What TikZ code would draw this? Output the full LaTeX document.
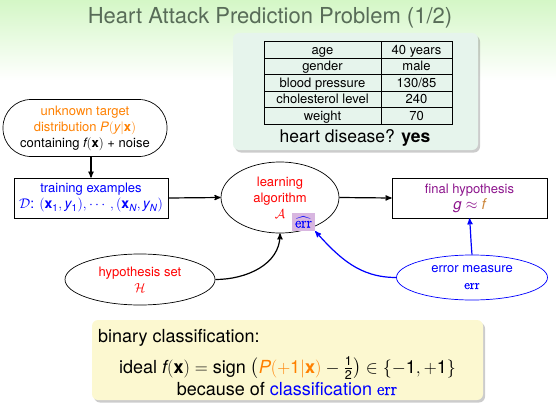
\RequirePackage{fix-cm}
\documentclass[tikz,border=0pt]{standalone}
\usepackage{amsmath}
\usepackage{fontspec}
\setmainfont{TeX Gyre Heros}
\newfontfamily\errfont[FakeBold=1.2]{Latin Modern Roman}
\usetikzlibrary{arrows}
\usetikzlibrary{shapes.geometric,shadows}

\definecolor{bggreen}{RGB}{212,247,198}
\definecolor{titlegreen}{RGB}{88,108,88}
\definecolor{mintblock}{RGB}{230,244,236}
\definecolor{yellowblock}{RGB}{252,248,208}
\definecolor{tgtorange}{RGB}{255,128,0}
\definecolor{fbrown}{RGB}{205,135,60}
\definecolor{hpurple}{RGB}{140,20,140}
\definecolor{errpurple}{RGB}{216,182,224}

\newcommand{\sv}[1]{\mathit{#1}}
\newcommand{\vx}{\mathbf{x}}
\newcommand{\errtxt}{\text{\errfont err}}

\begin{document}
\begin{tikzpicture}[x=1pt,y=-1pt, >=stealth', font=\fontsize{13}{16}\selectfont,
  arr/.style={->,line width=1.2pt},
  boxnode/.style={draw,line width=.7pt,align=center,inner sep=0pt},
  ovalnode/.style={ellipse,draw,line width=.7pt,align=center,inner sep=0pt}]
\useasboundingbox (0,0) rectangle (556,412);
\shade[top color=bggreen, bottom color=white] (0,0) rectangle (556,80);

\node[anchor=base, text=titlegreen, font=\fontsize{22}{26}\selectfont] (title) at (270,24) {Heart Attack Prediction Problem (1/2)};

% patient record
\fill[mintblock, rounded corners=6, drop shadow={shadow xshift=2pt,shadow yshift=-2.5pt,opacity=.4}] (233,33) rectangle (478,150);
\draw[line width=.6pt] (264,41.7) rectangle (452,124.2);
\foreach \r in {1,...,4} {
 \draw[line width=.6pt] (264,41.7+16.5*\r) -- (452,41.7+16.5*\r);
}
\draw[line width=.6pt] (381,41.7) -- (381,124.2);
\foreach \a/\b [count=\i] in {age/40 years, gender/male, blood pressure/{130/85}, cholesterol level/240, weight/70} {
 \node[anchor=base, inner sep=0] (k\i) at (322.5,41.7+16.5*\i-4.2) {\a};
 \node[anchor=base, inner sep=0] (v\i) at (416.5,41.7+16.5*\i-4.2) {\b};
}
\node[anchor=base, font=\fontsize{17.5}{20}\selectfont] (ask) at (355,142) {heart disease? \textbf{yes}};

% learning flow
\node[boxnode, rounded corners=28, minimum width=164, minimum height=57] (target) at (85,128)
 {\textcolor{tgtorange}{unknown target}\\\textcolor{tgtorange}{distribution $\sv{P}(\sv{y}|\vx)$}\\containing $\sv{f}(\vx)$ + noise};
\node[boxnode, minimum width=154, minimum height=40, text=blue] (train) at (91,198)
 {training examples\\\fontsize{14}{16}\selectfont$\mathcal{D}$: $(\vx_{\mathrm{1}},\sv{y}_{\mathrm{1}}),\cdots,(\vx_{\sv{N}},\sv{y}_{\sv{N}})$};
\node[ovalnode, minimum width=118, minimum height=71, text=red] (algo) at (280,197.5)
 {learning\\algorithm\\$\mathcal{A}$};
\node[fill=errpurple, text=blue, inner sep=1pt, minimum width=23, minimum height=18, font=\fontsize{15}{16}\selectfont] (errhat) at (303.5,222) {$\widehat{\errtxt}$};
\node[boxnode, minimum width=155, minimum height=40, text=hpurple] (final) at (469.5,198)
 {final hypothesis\\\fontsize{15}{16}\selectfont$\sv{g}\approx\textcolor{fbrown}{\sv{f}}$};
\node[ovalnode, minimum width=150, minimum height=51, text=red] (hyp) at (140,279.5)
 {hypothesis set\\$\mathcal{H}$};
\node[ovalnode, draw=blue, minimum width=151, minimum height=45, text=blue] (errm) at (472,277.5)
 {error measure\\\errfont err};

\draw[arr] (train.north |- target.south) -- (train.north);
\draw[arr] (train.east) -- (algo.west);
\draw[arr] (algo.east) -- (final.west);
\draw[arr] (hyp.east) to[out=0,in=-90] (algo.south);
\draw[arr,blue] (errm.west) to[out=180,in=-48] (errhat.south east);
\draw[arr,blue] (errm.north) to[out=95,in=-85] (final.south);

% binary classification
\fill[yellowblock, rounded corners=6, drop shadow={shadow xshift=2pt,shadow yshift=-2.5pt,opacity=.4}] (92,320) rectangle (483,400);
\node[anchor=base west, inner sep=0, font=\fontsize{18}{22}\selectfont] (bin) at (98,342.5) {binary classification:};
\node[anchor=base, inner sep=0, font=\fontsize{18}{22}\selectfont] (ideal) at (287.5,373)
 {ideal $\sv{f}(\vx) = \text{sign}\;\bigl(\textcolor{tgtorange}{\sv{P}(+\mathrm{1}|\vx)} - \tfrac{\mathrm{1}}{\mathrm{2}}\bigr) \in \{-\mathrm{1},+\mathrm{1}\}$};
\node[anchor=base, inner sep=0, font=\fontsize{18}{22}\selectfont] (because) at (287,395)
 {because of \textcolor{blue}{classification \errfont err}};
\end{tikzpicture}
\end{document}
